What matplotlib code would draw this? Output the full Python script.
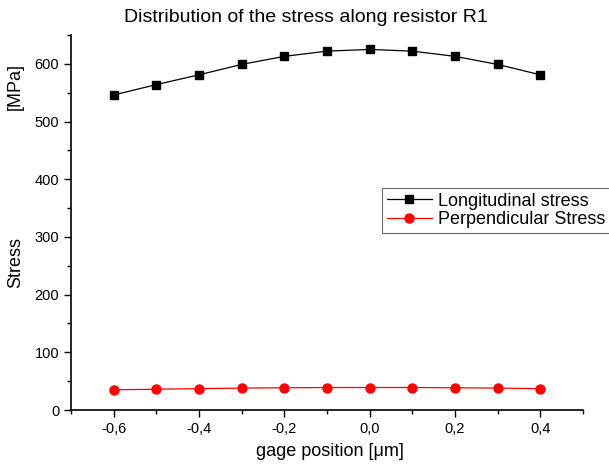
import matplotlib.pyplot as plt
from matplotlib.ticker import MultipleLocator, FixedLocator

plt.rcParams['font.family'] = ['Liberation Sans', 'DejaVu Sans']

# gage positions and stress readings (MPa)
position = [-0.6, -0.5, -0.4, -0.3, -0.2, -0.1, 0.0, 0.1, 0.2, 0.3, 0.4]
longitudinal = [546, 564, 581, 599, 613, 622, 625, 622, 613, 599, 581]
perpendicular = [35, 36, 37, 38, 38.5, 39, 39, 39, 38.5, 38, 37]

xtick_major = [-0.6, -0.4, -0.2, 0.0, 0.2, 0.4]
xtick_labels = ["-0,6", "-0,4", "-0,2", "0,0", "0,2", "0,4"]

fig = plt.figure(figsize=(6.09, 4.68), dpi=100)
ax = fig.add_axes([71 / 609, 1 - 410 / 468, 512 / 609, 375 / 468])

ax.plot(position, longitudinal, color="black", linewidth=0.9, marker="s",
        markersize=5.4, label="Longitudinal stress")
ax.plot(position, perpendicular, color="red", linewidth=0.9, marker="o",
        markersize=6.5, label="Perpendicular Stress")

ax.set_xlim(-0.7, 0.5)
ax.set_ylim(0, 650)
ax.xaxis.set_major_locator(FixedLocator(xtick_major))
ax.set_xticklabels(xtick_labels)
ax.xaxis.set_minor_locator(FixedLocator([-0.7, -0.5, -0.3, -0.1, 0.1, 0.3, 0.5]))
ax.yaxis.set_major_locator(MultipleLocator(100))
ax.yaxis.set_minor_locator(MultipleLocator(50))
ax.tick_params(which="major", direction="out", length=5, width=1, labelsize=10.5)
ax.tick_params(which="minor", direction="out", length=3, width=1)

ax.spines["top"].set_visible(False)
ax.spines["right"].set_visible(False)
for s in ("left", "bottom"):
    ax.spines[s].set_linewidth(1.2)

fig.text(306 / 609, 1 - 17 / 468, "Distribution of the stress along resistor R1",
         ha="center", va="center", fontsize=14)
fig.text(330 / 609, 1 - 452 / 468, "gage position [\u03bcm]",
         ha="center", va="center", fontsize=13)
fig.text(16 / 609, 1 - 262 / 468, "Stress", rotation=90,
         ha="center", va="center", fontsize=13)
fig.text(15 / 609, 1 - 87 / 468, "[MPa]", rotation=90,
         ha="center", va="center", fontsize=13)

leg = ax.legend(loc="upper left", bbox_to_anchor=(382 / 609, 1 - 188 / 468),
                bbox_transform=fig.transFigure, fontsize=13, frameon=True,
                fancybox=False, borderpad=0.25, handlelength=2.5, handletextpad=0.35,
                labelspacing=0.1, borderaxespad=0)
leg.get_frame().set_edgecolor("#444444")
leg.get_frame().set_linewidth(0.8)

fig.savefig("out.png", dpi=100)
